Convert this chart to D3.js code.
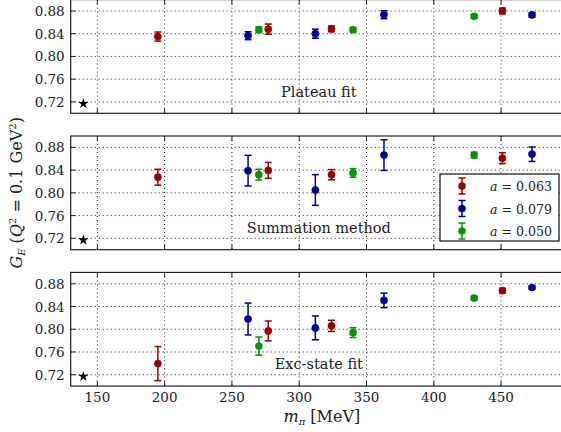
<!DOCTYPE html>
<head>
  <meta charset="utf-8">
  <script src="https://cdnjs.cloudflare.com/ajax/libs/d3/7.8.5/d3.min.js"></script>
  <style>
    body { margin:0; background:#fff; }
    svg { display:block; }
  </style>
</head>

<body>
  <script>
    // pion masses and lattice spacing of each ensemble
    var MPI = [195, 262, 270, 277, 312, 324, 340, 363, 430, 451, 473];
    var SPACING = ["0.063", "0.079", "0.050", "0.063", "0.079", "0.063", "0.050", "0.079", "0.050", "0.063", "0.079"];

    var PLATEAU = [0.835, 0.8365, 0.847, 0.848, 0.840, 0.8485, 0.847, 0.8735, 0.8706, 0.880, 0.873];
    var PLATEAU_ERR = [0.008, 0.007, 0.005, 0.009, 0.008, 0.005, 0.004, 0.007, 0.003, 0.005, 0.004];
    var SUMMATION = [0.8275, 0.839, 0.832, 0.8395, 0.805, 0.832, 0.835, 0.8664, 0.8665, 0.861, 0.868];
    var SUMMATION_ERR = [0.014, 0.027, 0.0095, 0.014, 0.027, 0.009, 0.0077, 0.027, 0.005, 0.0095, 0.0127];
    var EXCITED = [0.7396, 0.818, 0.7704, 0.797, 0.8024, 0.806, 0.794, 0.8507, 0.8548, 0.868, 0.8734];
    var EXCITED_ERR = [0.030, 0.028, 0.016, 0.0175, 0.021, 0.0098, 0.0086, 0.0127, 0.003, 0.004, 0.003];

    var PANEL_LABELS = ["Plateau fit", "Summation method", "Exc-state fit"];
    var PHYS_MPI = 139.6;
    var PHYS_GE = 0.717;

    var LEGEND_KEYS = ["0.063", "0.079", "0.050"];
    var X_TICKS = [150, 200, 250, 300, 350, 400, 450];
    var Y_TICKS = [0.72, 0.76, 0.80, 0.84, 0.88];

    var color = d3.scaleOrdinal().domain(LEGEND_KEYS).range(["#990000", "#000099", "#009900"]);

    var W = 561, H = 432;
    var left = 70.7, right = 565;
    var panelH = 113.7, panelStep = 136.4, top0 = -0.4;

    var x = d3.scaleLinear().domain([130.2, 497.5]).range([left, right]);

    var svg = d3.select("body").append("svg")
      .attr("width", W)
      .attr("height", H)
      .attr("font-family", "'DejaVu Serif', serif")
      .style("fill", "#222");

    var panels = [
      {vals: PLATEAU, errs: PLATEAU_ERR},
      {vals: SUMMATION, errs: SUMMATION_ERR},
      {vals: EXCITED, errs: EXCITED_ERR}
    ];

    panels.forEach(function(p, i) {
      var top = top0 + i * panelStep;
      var y = d3.scaleLinear().domain([0.70, 0.90]).range([top + panelH, top]);
      var g = svg.append("g");

      // dotted grid
      g.selectAll(".gx").data(X_TICKS).enter().append("line")
        .attr("x1", function(d){ return x(d); }).attr("x2", function(d){ return x(d); })
        .attr("y1", top).attr("y2", top + panelH)
        .style("stroke", "#000").style("stroke-width", 0.9).style("stroke-dasharray", "1,3");
      g.selectAll(".gy").data(Y_TICKS).enter().append("line")
        .attr("x1", left).attr("x2", right)
        .attr("y1", function(d){ return y(d); }).attr("y2", function(d){ return y(d); })
        .style("stroke", "#000").style("stroke-width", 0.9).style("stroke-dasharray", "1,3");

      // inward ticks
      g.selectAll(".tb").data(X_TICKS).enter().append("line")
        .attr("x1", function(d){ return x(d); }).attr("x2", function(d){ return x(d); })
        .attr("y1", top + panelH).attr("y2", top + panelH - 5)
        .style("stroke", "#222").style("stroke-width", 1);
      g.selectAll(".tt").data(X_TICKS).enter().append("line")
        .attr("x1", function(d){ return x(d); }).attr("x2", function(d){ return x(d); })
        .attr("y1", top).attr("y2", top + 5)
        .style("stroke", "#222").style("stroke-width", 1);
      g.selectAll(".tl").data(Y_TICKS).enter().append("line")
        .attr("x1", left).attr("x2", left + 5)
        .attr("y1", function(d){ return y(d); }).attr("y2", function(d){ return y(d); })
        .style("stroke", "#222").style("stroke-width", 1);

      g.selectAll(".yl").data(Y_TICKS).enter().append("text")
        .attr("x", left - 6)
        .attr("y", function(d){ return y(d) + 5; })
        .attr("text-anchor", "end")
        .style("font-size", "13.5px")
        .text(function(d){ return d3.format(".2f")(d); });

      g.append("rect")
        .attr("x", left).attr("y", top).attr("width", right - left).attr("height", panelH)
        .style("fill", "none").style("stroke", "#222").style("stroke-width", 1.2);

      g.append("text")
        .attr("x", (left + right) / 2 + 1)
        .attr("y", top + 97)
        .attr("text-anchor", "middle")
        .style("font-size", "14.5px")
        .text(PANEL_LABELS[i]);

      // error bars + points
      var pts = g.selectAll(".pt").data(MPI).enter().append("g")
        .style("stroke", function(d, j){ return color(SPACING[j]); })
        .style("fill", function(d, j){ return color(SPACING[j]); });
      pts.append("line")
        .attr("x1", function(d){ return x(d); }).attr("x2", function(d){ return x(d); })
        .attr("y1", function(d, j){ return y(p.vals[j] - p.errs[j]); })
        .attr("y2", function(d, j){ return y(p.vals[j] + p.errs[j]); })
        .style("stroke-width", 1.5);
      [-1, 1].forEach(function(s) {
        pts.append("line")
          .attr("x1", function(d){ return x(d) - 3.5; }).attr("x2", function(d){ return x(d) + 3.5; })
          .attr("y1", function(d, j){ return y(p.vals[j] + s * p.errs[j]); })
          .attr("y2", function(d, j){ return y(p.vals[j] + s * p.errs[j]); })
          .style("stroke-width", 1.5);
      });
      pts.append("circle")
        .attr("cx", function(d){ return x(d); })
        .attr("cy", function(d, j){ return y(p.vals[j]); })
        .attr("r", 3.6)
        .style("stroke-width", 0.5);

      g.append("path")
        .attr("d", d3.symbol().type(d3.symbolStar).size(34)())
        .attr("transform", "translate(" + x(PHYS_MPI) + "," + y(PHYS_GE) + ")")
        .style("fill", "#000");
    });

    // x axis labels under the last panel
    var bottom = top0 + 2 * panelStep + panelH;
    svg.selectAll(".xl").data(X_TICKS).enter().append("text")
      .attr("x", function(d){ return x(d); })
      .attr("y", bottom + 16)
      .attr("text-anchor", "middle")
      .style("font-size", "13.5px")
      .text(function(d){ return d; });

    var xl = svg.append("text")
      .attr("x", (left + right) / 2 + 4)
      .attr("y", bottom + 36)
      .attr("text-anchor", "middle")
      .style("font-size", "16px");
    xl.append("tspan").style("font-style", "italic").text("m");
    xl.append("tspan").attr("dy", 3).style("font-size", "10px").style("font-style", "italic").text("π");
    xl.append("tspan").attr("dy", -3).text(" [MeV]");

    var midY = top0 + panelStep + panelH / 2;
    var yl = svg.append("text")
      .attr("transform", "translate(22," + midY + ") rotate(-90)")
      .attr("text-anchor", "middle")
      .style("font-size", "16px");
    yl.append("tspan").style("font-style", "italic").text("G");
    yl.append("tspan").attr("dy", 3).style("font-size", "10px").style("font-style", "italic").text("E");
    yl.append("tspan").attr("dy", -3).text(" (");
    yl.append("tspan").style("font-style", "italic").text("Q");
    yl.append("tspan").attr("dy", -6).style("font-size", "10px").text("2");
    yl.append("tspan").attr("dy", 6).text(" = 0.1 GeV");
    yl.append("tspan").attr("dy", -6).style("font-size", "10px").text("2");
    yl.append("tspan").attr("dy", 6).text(")");

    // legend
    var lg = svg.append("g").attr("transform", "translate(440,174)");
    lg.append("rect")
      .attr("width", 119).attr("height", 67)
      .style("fill", "#fff").style("stroke", "#111").style("stroke-width", 1.2);
    var items = lg.selectAll(".li").data(LEGEND_KEYS).enter().append("g")
      .attr("transform", function(d, k){ return "translate(22," + (12 + k * 22.5) + ")"; })
      .style("stroke", function(d){ return color(d); })
      .style("fill", function(d){ return color(d); });
    items.append("line").attr("x1", 0).attr("x2", 0).attr("y1", -8).attr("y2", 8).style("stroke-width", 1.5);
    items.append("line").attr("x1", -3.5).attr("x2", 3.5).attr("y1", -8).attr("y2", -8).style("stroke-width", 1.5);
    items.append("line").attr("x1", -3.5).attr("x2", 3.5).attr("y1", 8).attr("y2", 8).style("stroke-width", 1.5);
    items.append("circle").attr("r", 3.6).style("stroke-width", 0.5);
    var lt = items.append("text")
      .attr("x", 28).attr("y", 5)
      .style("stroke", "none").style("fill", "#222")
      .style("font-size", "12.6px");
    lt.append("tspan").style("font-style", "italic").text("a");
    lt.append("tspan").text(function(d){ return " = " + d; });
  </script>
</body>
